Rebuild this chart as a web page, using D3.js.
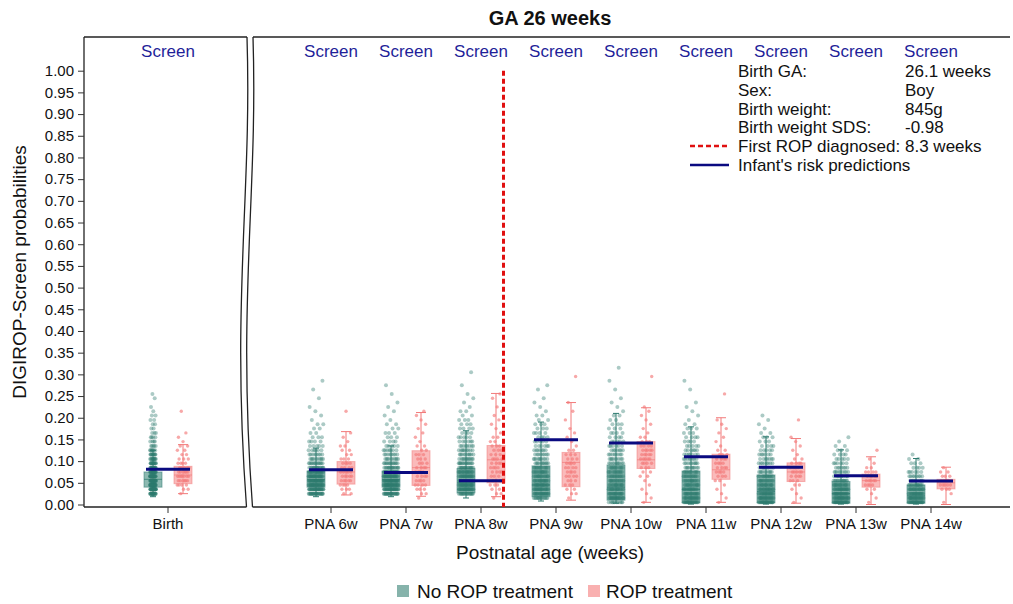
<!DOCTYPE html>
<html>
<head>
<meta charset="utf-8">
<script src="https://cdn.jsdelivr.net/npm/d3@7"></script>
<style>
  body { margin: 0; background: #fff; }
  svg text { font-family: "Liberation Sans", Arial, sans-serif; }
</style>
</head>
<body>
<svg width="1013" height="604"></svg>
<script>
// categories
var groups = ["Birth", "PNA 6w", "PNA 7w", "PNA 8w", "PNA 9w", "PNA 10w", "PNA 11w", "PNA 12w", "PNA 13w", "PNA 14w"];
var weeks = [null, 6, 7, 8, 9, 10, 11, 12, 13, 14];
var yTicks = d3.range(0, 1.0001, 0.05);

// box stats [lo, q1, median, q3, hi]
var noTreatBox = [
  [0.018, 0.040, 0.058, 0.075, 0.125],
  [0.018, 0.040, 0.058, 0.077, 0.130],
  [0.018, 0.040, 0.058, 0.077, 0.135],
  [0.015, 0.027, 0.050, 0.083, 0.170],
  [0.008, 0.018, 0.045, 0.089, 0.190],
  [0.003, 0.010, 0.040, 0.091, 0.210],
  [0.001, 0.004, 0.035, 0.077, 0.179],
  [0.001, 0.004, 0.030, 0.068, 0.156],
  [0.001, 0.003, 0.025, 0.053, 0.126],
  [0.001, 0.003, 0.020, 0.045, 0.106]
];
var treatBox = [
  [0.025, 0.048, 0.068, 0.088, 0.138],
  [0.022, 0.047, 0.075, 0.099, 0.168],
  [0.019, 0.044, 0.085, 0.124, 0.212],
  [0.018, 0.050, 0.103, 0.136, 0.256],
  [0.010, 0.041, 0.097, 0.120, 0.235],
  [0.005, 0.083, 0.103, 0.145, 0.223],
  [0.005, 0.058, 0.080, 0.116, 0.200],
  [0.003, 0.053, 0.075, 0.096, 0.152],
  [0.000, 0.040, 0.055, 0.070, 0.110],
  [0.000, 0.036, 0.050, 0.058, 0.086]
];
// infant's risk predictions
var risk = [0.081, 0.080, 0.074, 0.055, 0.149, 0.142, 0.110, 0.086, 0.066, 0.054];

// individual points, as counts per 0.01 bin starting at 0.00
var noTreatCounts = [
  [0,0,20,30,30,28,24,20,16,14,12,10,7,5,4,4,3,2,2,2,2,1,1,0,1,1],
  [0,0,25,30,30,28,24,20,16,13,10,8,6,5,4,3,2,2,2,1,1,1,1,0,1,0,1,0,1],
  [0,0,25,30,30,28,24,20,16,13,10,8,7,5,4,3,3,2,2,1,1,1,1,1,0,1,0,1],
  [0,0,18,24,24,22,20,18,16,14,12,10,9,8,6,5,4,4,3,3,2,2,1,1,1,1,0,1,0,0,1],
  [0,14,20,20,18,17,15,14,12,11,10,8,7,6,5,4,4,3,3,2,2,1,1,1,1,0,1,1],
  [10,20,18,16,15,14,13,12,11,10,9,8,7,6,5,4,4,3,3,2,2,1,1,1,1,0,1,0,1,0,0,1],
  [22,20,18,16,15,14,13,12,10,9,8,7,6,5,4,4,3,3,2,1,1,1,1,1,0,0,1,0,1],
  [24,22,20,18,16,14,12,10,9,8,7,6,5,4,3,3,2,1,1,1,1],
  [26,24,22,20,17,14,11,9,7,6,5,4,3,2,1,1],
  [24,22,20,17,14,11,8,6,4,3,2,1]
];
var treatCounts = [
  [0,0,1,2,4,6,7,6,5,4,3,2,2,2,1,1,1,0,0,0,0,1],
  [0,0,2,3,4,5,5,5,4,4,3,2,2,2,1,1,1,0,0,0,0,1],
  [0,1,2,3,4,4,4,4,4,3,3,3,2,2,1,1,1,1,1,1,1,1],
  [0,1,2,2,3,3,3,4,4,4,4,3,3,3,2,2,1,1,1,1,1,1,1,0,1,1],
  [0,1,2,2,3,3,4,4,4,4,3,3,2,1,1,1,1,1,0,1,0,1,0,1,0,0,0,0,0,1],
  [1,1,1,1,1,1,2,2,3,4,5,5,5,4,3,2,1,1,1,1,1,1,1,0,0,0,0,0,0,1],
  [1,1,1,1,1,2,3,4,4,4,4,3,2,1,1,1,1,1,1,1,0,0,0,0,0,1],
  [1,1,1,1,2,3,4,5,4,4,2,1,1,1,1,1,0,0,0,1],
  [1,1,1,2,4,5,5,4,2,1,1,0,1],
  [1,0,1,3,5,6,3,2,1]
];

var firstRop = 8.3;
var infoLabels = ["Birth GA:", "Sex:", "Birth weight:", "Birth weight SDS:", "First ROP diagnosed:", "Infant's risk predictions"];
var infoValues = ["26.1 weeks", "Boy", "845g", "-0.98", "8.3 weeks", ""];

var svg = d3.select("svg");
var topY = 37, bottomY = 507, leftX = 84, breakL = 247, breakR = 253, rightEnd = 1010;

var y = d3.scaleLinear().domain([0, 1]).range([504.5, 70.7]);
var xWeek = d3.scaleLinear().domain([6, 14]).range([331, 931]);
var xBirth = d3.scalePoint().domain(["Birth"]).range([168, 168]);
function xPos(i) { return i === 0 ? xBirth("Birth") : xWeek(weeks[i]); }

var green = "#2c7a6f", greenFill = "#6fa79e", pink = "#f27a7a", pinkFill = "#f9a9a9";

// frame
var frame = svg.append("g").attr("fill", "none").attr("stroke", "#222").attr("stroke-width", 1.3);
frame.append("line").attr("x1", leftX).attr("x2", leftX).attr("y1", topY).attr("y2", bottomY);
frame.append("line").attr("x1", leftX).attr("x2", breakL).attr("y1", topY).attr("y2", topY);
frame.append("line").attr("x1", leftX).attr("x2", breakL - 0.5).attr("y1", bottomY).attr("y2", bottomY);
frame.append("line").attr("x1", breakR).attr("x2", rightEnd).attr("y1", topY).attr("y2", topY);
frame.append("line").attr("x1", breakR - 0.5).attr("x2", rightEnd).attr("y1", bottomY).attr("y2", bottomY);
// axis break: two wavy lines
[0, breakR - breakL].forEach(function(dx) {
  var x0 = breakL + dx;
  frame.append("path")
    .attr("d", "M" + x0 + "," + topY +
      " C" + (x0 + 5) + "," + (topY + 160) + " " + (x0 - 16) + "," + (topY + 260) + " " + (x0 - 0.5) + "," + bottomY);
});

// y axis
var yAxis = d3.axisLeft(y).tickValues(yTicks).tickFormat(d3.format(".2f")).tickSize(6).tickPadding(4);
var ga = svg.append("g").attr("transform", "translate(" + leftX + ",0)").call(yAxis);
ga.select(".domain").remove();
ga.selectAll("line").attr("stroke", "#333");
ga.selectAll("text").attr("font-size", 15).attr("fill", "#111").attr("font-family", "Liberation Sans, Arial, sans-serif");

// x ticks + labels
groups.forEach(function(g, i) {
  var x = xPos(i);
  svg.append("line").attr("x1", x).attr("x2", x).attr("y1", bottomY).attr("y2", bottomY + 6).attr("stroke", "#333");
  svg.append("text").attr("x", x).attr("y", 529).attr("text-anchor", "middle").attr("font-size", 15).attr("fill", "#111").text(g);
  svg.append("text").attr("x", x).attr("y", 57).attr("text-anchor", "middle").attr("font-size", 17).attr("fill", "#1f1f99").text("Screen");
});

// boxes, points
var boxW = 18, off = 15;
function drawBox(stats, cx, fill, stroke, capW) {
  var g = svg.append("g");
  g.append("line").attr("x1", cx).attr("x2", cx).attr("y1", y(stats[0])).attr("y2", y(stats[4])).attr("stroke", stroke).attr("stroke-width", 1);
  [stats[0], stats[4]].forEach(function(v) {
    g.append("line").attr("x1", cx - capW / 2).attr("x2", cx + capW / 2).attr("y1", y(v)).attr("y2", y(v)).attr("stroke", stroke);
  });
  g.append("rect").attr("x", cx - boxW / 2).attr("width", boxW)
    .attr("y", y(stats[3])).attr("height", y(stats[1]) - y(stats[3]))
    .attr("fill", fill).attr("fill-opacity", 0.8).attr("stroke", stroke).attr("stroke-opacity", 0.5);
  g.append("line").attr("x1", cx - boxW / 2).attr("x2", cx + boxW / 2).attr("y1", y(stats[2])).attr("y2", y(stats[2])).attr("stroke", stroke).attr("stroke-opacity", 0.7);
}
function drawPoints(counts, cx, width, color, r, op) {
  var k = 0;
  var g = svg.append("g").attr("fill", color).attr("fill-opacity", op);
  counts.forEach(function(n, b) {
    for (var j = 0; j < n; j++) {
      var jit = ((k * 0.6180339887 + 0.31) % 1) - 0.5;
      k++;
      g.append("circle").attr("cx", cx + jit * width).attr("cy", y(b * 0.01 + 0.005)).attr("r", r);
    }
  });
}

groups.forEach(function(g, i) {
  var cx = xPos(i);
  drawBox(noTreatBox[i], cx - off, greenFill, green, 6);
  drawPoints(noTreatCounts[i], cx - off, i === 0 ? 6 : 15, green, 2, 0.4);
  drawBox(treatBox[i], cx + off, pinkFill, pink, 10);
  drawPoints(treatCounts[i], cx + off, 12, pink, 1.7, 0.65);
});

// risk lines
groups.forEach(function(g, i) {
  var cx = xPos(i);
  svg.append("line").attr("x1", cx - 22).attr("x2", cx + 22).attr("y1", y(risk[i])).attr("y2", y(risk[i]))
    .attr("stroke", "#0a0a80").attr("stroke-width", 3);
});

// first ROP diagnosed
svg.append("line").attr("x1", xWeek(firstRop)).attr("x2", xWeek(firstRop)).attr("y1", y(1)).attr("y2", bottomY)
  .attr("stroke", "#e01010").attr("stroke-width", 3).attr("stroke-dasharray", "5,3");

// info legend
infoLabels.forEach(function(t, i) {
  var yy = 77 + i * 18.8;
  svg.append("text").attr("x", 738).attr("y", yy).attr("font-size", 17).attr("fill", "#111").text(t);
  if (infoValues[i]) svg.append("text").attr("x", 905).attr("y", yy).attr("font-size", 17).attr("fill", "#111").text(infoValues[i]);
});
svg.append("line").attr("x1", 690).attr("x2", 729).attr("y1", 146).attr("y2", 146)
  .attr("stroke", "#e01010").attr("stroke-width", 2.5).attr("stroke-dasharray", "5,3");
svg.append("line").attr("x1", 690).attr("x2", 729).attr("y1", 165).attr("y2", 165)
  .attr("stroke", "#0a0a80").attr("stroke-width", 2.5);

// titles
svg.append("text").attr("x", 550).attr("y", 25).attr("text-anchor", "middle").attr("font-size", 20).attr("font-weight", "bold").attr("fill", "#111").text("GA 26 weeks");
svg.append("text").attr("x", 550).attr("y", 559).attr("text-anchor", "middle").attr("font-size", 19).attr("fill", "#111").text("Postnatal age (weeks)");
svg.append("text").attr("transform", "translate(26,272) rotate(-90)").attr("text-anchor", "middle").attr("font-size", 19).attr("fill", "#111").text("DIGIROP-Screen probabilities");

// bottom legend
svg.append("rect").attr("x", 397).attr("y", 585).attr("width", 12).attr("height", 12).attr("fill", "#86b3ab");
svg.append("text").attr("x", 417).attr("y", 598).attr("font-size", 19).attr("fill", "#111").text("No ROP treatment");
svg.append("rect").attr("x", 588).attr("y", 585).attr("width", 12).attr("height", 12).attr("fill", "#f9b0b0");
svg.append("text").attr("x", 606).attr("y", 598).attr("font-size", 19).attr("fill", "#111").text("ROP treatment");
</script>
</body>
</html>
